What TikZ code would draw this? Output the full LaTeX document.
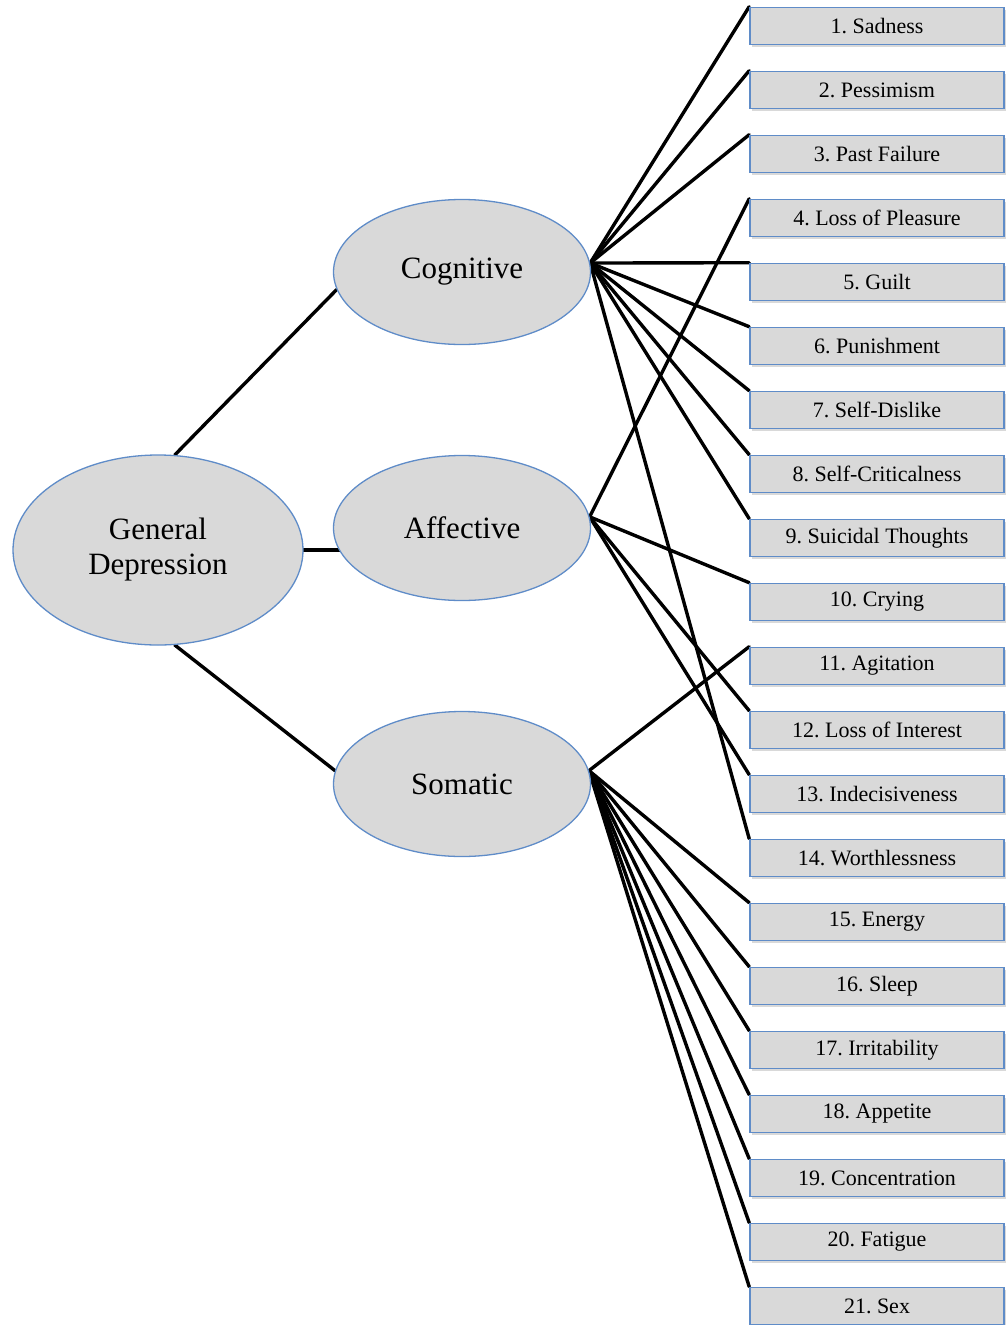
\documentclass[tikz,border=0pt]{standalone}
\usepackage{fontspec}
\setmainfont{Liberation Serif}
\usetikzlibrary{shapes.geometric,shadows}
\pgfdeclarelayer{bg}
\pgfsetlayers{bg,main}
\definecolor{boxfill}{RGB}{217,217,217}
\definecolor{edgeblue}{RGB}{95,140,200}
\frenchspacing
\begin{document}
\begin{tikzpicture}[x=1pt,y=-1pt,
  cat/.style={ellipse, draw=edgeblue, line width=1.3pt, fill=boxfill, inner sep=0pt,
    font=\fontsize{31}{35}\selectfont, align=center},
  item/.style={rectangle, draw=edgeblue, line width=1.6pt, fill=boxfill,
    minimum width=254pt, minimum height=37pt, inner sep=0pt,
    font=\fontsize{22}{26}\selectfont,
    drop shadow={shadow xshift=2pt, shadow yshift=-2pt, opacity=0.3}},
  link/.style={line width=3.4pt, line cap=round}]
\useasboundingbox (0,0) rectangle (1007,1325);

\node[cat, minimum width=290pt, minimum height=190pt] (gd) at (158,550) {General\\Depression};
\node[cat, minimum width=257pt, minimum height=145pt] (cog) at (462,272) {Cognitive};
\node[cat, minimum width=257pt, minimum height=145pt] (aff) at (462,528) {Affective};
\node[cat, minimum width=257pt, minimum height=145pt] (som) at (462,784) {Somatic};

\foreach \i/\t in {1/Sadness, 2/Pessimism, 3/Past Failure, 4/Loss of Pleasure, 5/Guilt,
  6/Punishment, 7/Self-Dislike, 8/Self-Criticalness, 9/Suicidal Thoughts, 10/Crying,
  11/Agitation, 12/Loss of Interest, 13/Indecisiveness, 14/Worthlessness, 15/Energy,
  16/Sleep, 17/Irritability, 18/Appetite, 19/Concentration, 20/Fatigue, 21/Sex}
  \node[item] (i\i) at (877,{26+64*(\i-1)}) {\i. \t};

\begin{pgfonlayer}{bg}
\draw[link] (gd.80) -- (cog.188);
\draw[link] (gd.east) -- (gd.east -| aff.center);
\draw[link] (gd.-80) -- (som.174);
\foreach \k in {1,2,3,5,6,7,8,9,14} \draw[link] (cog.4) -- (i\k.north west);
\foreach \k in {4,10,12,13} \draw[link] (aff.5) -- (i\k.north west);
\foreach \k in {11,15,16,17,18,19,20,21} \draw[link] (som.6) -- (i\k.north west);
\end{pgfonlayer}
\end{tikzpicture}
\end{document}
